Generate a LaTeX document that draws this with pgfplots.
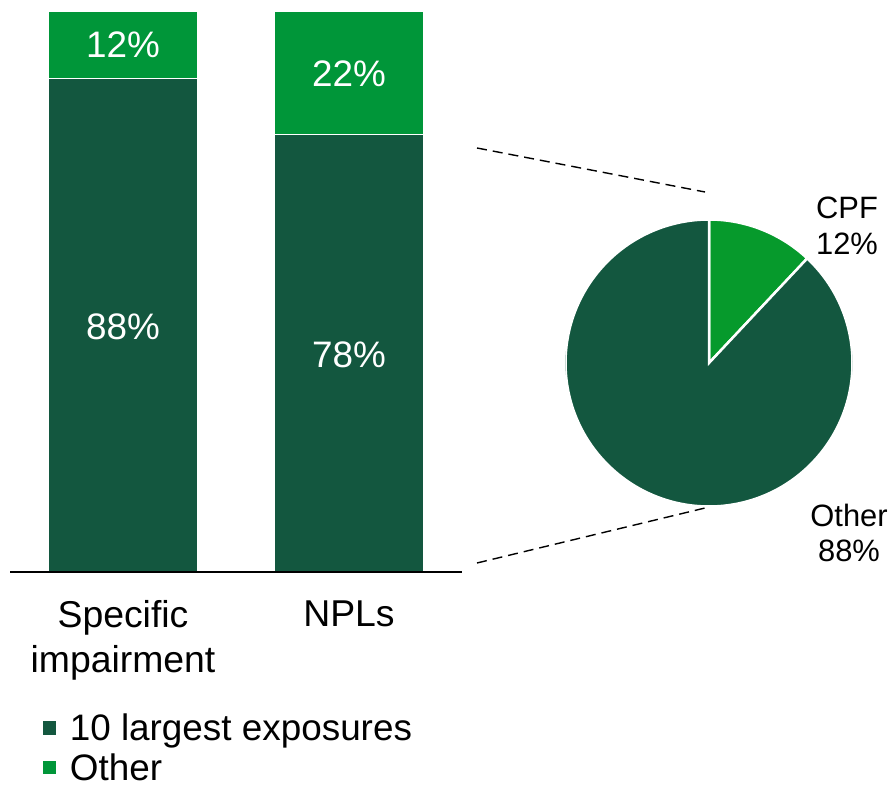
\documentclass[border=0pt]{standalone}
\usepackage{fontspec}
\setmainfont{Liberation Sans}
\usepackage{pgfplots}
\pgfplotsset{compat=1.18}
\definecolor{darkg}{HTML}{13573F}
\definecolor{lightg}{HTML}{009639}
\definecolor{pieg}{HTML}{069A2C}
\begin{document}
\begin{tikzpicture}
\path[use as bounding box] (-10bp,-217bp) rectangle (884bp,572bp);
\begin{axis}[
  at={(0bp,0bp)}, anchor=south west,
  scale only axis, width=452bp, height=561bp,
  ybar stacked, bar width=149bp,
  xmin=-0.5, xmax=1.5, ymin=0, ymax=100,
  axis on top,
  axis x line*=bottom, axis y line=none,
  x axis line style={-, black, line width=1.3bp},
  xtick={0,1}, xticklabels={{Specific\\impairment},{NPLs}},
  xtick style={draw=none},
  xticklabel style={align=center, font=\fontsize{37.5}{45}\selectfont, yshift=-25bp},
  ytick=\empty,
  legend style={at={(0.07,-0.249)}, anchor=north west, draw=none, fill=none,
    font=\fontsize{37}{41}\selectfont, row sep=7.5bp, inner sep=0pt,
    legend cell align=left,
    /tikz/every odd column/.append style={column sep=10bp}},
  legend image code/.code={\fill[#1] (0bp,-7.5bp) rectangle (14.5bp,7.5bp);},
]
\addplot[fill=darkg, draw=white, line width=1.5bp] coordinates {(0,88) (1,78)};
\addplot[fill=lightg, draw=white, line width=1.5bp] coordinates {(0,12) (1,22)};
\legend{10 largest exposures, Other}
\coordinate (l1) at (axis cs:0,43.7);
\coordinate (l2) at (axis cs:0,93.9);
\coordinate (l3) at (axis cs:1,38.7);
\coordinate (l4) at (axis cs:1,88.9);
\end{axis}
\node[white, font=\fontsize{37}{44}\selectfont] at (l1) {88\%};
\node[white, font=\fontsize{37}{44}\selectfont] at (l2) {12\%};
\node[white, font=\fontsize{37}{44}\selectfont] at (l3) {78\%};
\node[white, font=\fontsize{37}{44}\selectfont] at (l4) {22\%};
\draw[dash pattern=on 10bp off 6bp, line width=1.4bp] (467bp,424bp) -- (695bp,380bp);
\draw[dash pattern=on 10bp off 6bp, line width=1.4bp] (467bp,9bp) -- (695bp,64bp);
\begin{axis}[
  at={(699bp,209bp)}, anchor=center,
  scale only axis, width=287bp, height=287bp,
  xmin=-1, xmax=1, ymin=-1, ymax=1, hide axis,
]
\addplot[draw=none] coordinates {(0,0)};
\fill[pieg, draw=white, line width=2.5bp] (axis cs:0,0) -- (axis cs:0,1)
  arc[start angle=90, end angle=46.8, radius=143.5bp] -- cycle;
\fill[darkg, draw=white, line width=2.5bp] (axis cs:0,0) -- (axis cs:{cos(46.8)},{sin(46.8)})
  arc[start angle=46.8, end angle=-270, radius=143.5bp] -- cycle;
\end{axis}
\node[align=center, font=\fontsize{31}{36}\selectfont] at (837bp,346bp) {CPF\\12\%};
\node[align=center, font=\fontsize{31}{36}\selectfont] at (839bp,39bp) {Other\\88\%};
\end{tikzpicture}
\end{document}
